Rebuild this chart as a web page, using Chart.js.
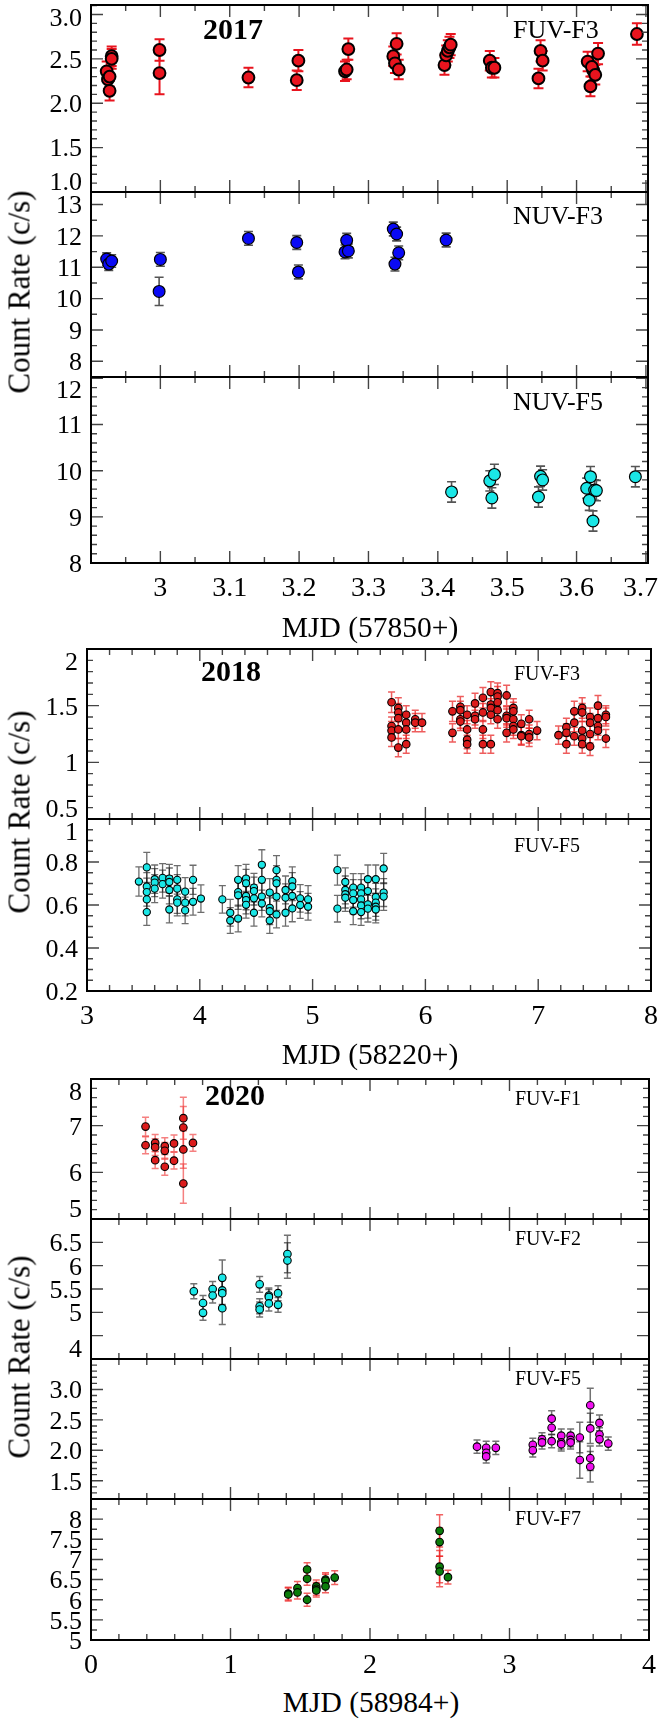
<!DOCTYPE html>
<html><head><meta charset="utf-8">
<script src="https://cdn.jsdelivr.net/npm/chart.js@4.4.1/dist/chart.umd.min.js"></script>
<style>
html,body{margin:0;padding:0;background:#fff;}
body{width:661px;height:1721px;position:relative;overflow:hidden;font-family:"Liberation Serif","Times New Roman",serif;}
canvas{position:absolute;left:0;}
.t{position:absolute;line-height:1;white-space:nowrap;color:#000;font-family:"Liberation Serif","Times New Roman",serif;}
</style></head><body>
<script>
// ---------------- 2017 ----------------
const mjd17_fuv3  = [2.9226,2.9244,2.9268,2.9268,2.9298,2.9298,2.9988,2.9988,3.127,3.1966,3.199,3.2662,3.2686,3.271,3.3358,3.3382,3.3406,3.3436,3.4096,3.412,3.4144,3.4168,3.4186,3.4749,3.4779,3.4816,3.5451,3.5481,3.5511,3.616,3.620,3.624,3.622,3.627,3.631,3.687];
const rate17_fuv3 = [2.36,2.27,2.30,2.14,2.53,2.50,2.60,2.34,2.29,2.26,2.48,2.36,2.38,2.61,2.53,2.45,2.67,2.38,2.43,2.54,2.59,2.63,2.66,2.48,2.40,2.40,2.28,2.59,2.48,2.47,2.19,2.37,2.41,2.32,2.56,2.78];
const err17_fuv3  = [0.11,0.11,0.11,0.11,0.11,0.11,0.12,0.24,0.11,0.11,0.12,0.11,0.11,0.12,0.11,0.11,0.12,0.11,0.11,0.11,0.12,0.12,0.12,0.11,0.11,0.11,0.11,0.12,0.11,0.11,0.11,0.11,0.11,0.11,0.12,0.12];

const mjd17_nuv3  = [2.9226,2.9256,2.9298,3.000,2.9982,3.127,3.1966,3.199,3.2662,3.2686,3.271,3.3358,3.3382,3.3406,3.3436,3.412];
const rate17_nuv3 = [11.26,11.10,11.20,11.25,10.23,11.92,11.79,10.85,11.49,11.86,11.52,12.22,11.10,12.06,11.46,11.87];
const err17_nuv3  = [0.20,0.20,0.20,0.22,0.45,0.22,0.22,0.22,0.22,0.22,0.22,0.22,0.22,0.22,0.22,0.22];

const mjd17_nuv5  = [3.4198,3.4749,3.4779,3.4816,3.5451,3.5481,3.5511,3.6146,3.6183,3.6201,3.6237,3.6261,3.6286,3.6848];
const rate17_nuv5 = [9.54,9.78,9.41,9.92,9.43,9.88,9.80,9.62,9.36,9.87,8.91,9.58,9.57,9.87];
const err17_nuv5  = [0.22,0.22,0.22,0.22,0.22,0.22,0.22,0.22,0.22,0.22,0.22,0.22,0.22,0.22];

// ---------------- 2018 ----------------
const mjd18_fuv3  = [5.70,5.70,5.70,5.70,5.76,5.76,5.76,5.76,5.76,5.83,5.83,5.83,5.83,5.91,5.91,5.97,6.24,6.24,6.31,6.31,6.31,6.31,6.37,6.37,6.37,6.37,6.44,6.44,6.44,6.51,6.51,6.51,6.51,6.58,6.58,6.58,6.58,6.58,6.64,6.64,6.64,6.64,6.64,6.72,6.72,6.72,6.72,6.78,6.78,6.78,6.78,6.78,6.85,6.85,6.85,6.92,6.92,6.92,6.99,7.18,7.25,7.25,7.25,7.32,7.32,7.32,7.39,7.39,7.39,7.39,7.39,7.46,7.46,7.46,7.46,7.53,7.53,7.53,7.53,7.60,7.60,7.60];
const rate18_fuv3 = [1.53,1.32,1.28,1.22,1.48,1.44,1.39,1.29,1.13,1.42,1.35,1.29,1.16,1.38,1.35,1.35,1.45,1.26,1.49,1.46,1.38,1.36,1.42,1.29,1.20,1.16,1.52,1.41,1.38,1.57,1.44,1.29,1.16,1.62,1.51,1.48,1.42,1.16,1.61,1.58,1.53,1.46,1.38,1.59,1.41,1.39,1.26,1.48,1.45,1.38,1.32,1.29,1.34,1.24,1.23,1.38,1.25,1.22,1.28,1.24,1.31,1.26,1.16,1.45,1.35,1.23,1.48,1.44,1.28,1.21,1.16,1.40,1.35,1.25,1.14,1.50,1.39,1.32,1.28,1.42,1.40,1.21];
const err18_fuv3  = [0.09,0.08,0.08,0.08,0.09,0.08,0.08,0.08,0.08,0.08,0.08,0.08,0.08,0.08,0.08,0.08,0.09,0.08,0.09,0.08,0.08,0.08,0.08,0.08,0.08,0.08,0.09,0.08,0.08,0.09,0.08,0.08,0.08,0.09,0.09,0.08,0.08,0.08,0.09,0.09,0.08,0.08,0.08,0.09,0.08,0.08,0.08,0.08,0.08,0.08,0.08,0.08,0.08,0.08,0.08,0.08,0.08,0.08,0.08,0.08,0.08,0.08,0.08,0.09,0.08,0.08,0.09,0.08,0.08,0.08,0.08,0.08,0.08,0.08,0.08,0.09,0.08,0.08,0.08,0.08,0.08,0.08];

const mjd18_fuv5  = [3.46,3.53,3.53,3.53,3.53,3.53,3.60,3.60,3.60,3.67,3.67,3.73,3.73,3.73,3.73,3.80,3.80,3.80,3.80,3.87,3.87,3.87,3.94,3.94,4.01,4.20,4.27,4.27,4.34,4.34,4.34,4.34,4.41,4.41,4.41,4.41,4.41,4.48,4.48,4.48,4.48,4.55,4.55,4.55,4.55,4.62,4.62,4.62,4.62,4.68,4.68,4.68,4.68,4.68,4.76,4.76,4.76,4.82,4.82,4.82,4.82,4.89,4.89,4.96,4.96,5.22,5.22,5.29,5.29,5.29,5.29,5.36,5.36,5.36,5.36,5.43,5.43,5.43,5.43,5.43,5.49,5.49,5.49,5.49,5.56,5.56,5.56,5.56,5.56,5.63,5.63,5.63];
const rate18_fuv5 = [0.709,0.775,0.686,0.660,0.626,0.567,0.720,0.704,0.676,0.726,0.697,0.723,0.707,0.670,0.579,0.717,0.676,0.626,0.611,0.662,0.611,0.575,0.717,0.615,0.630,0.626,0.564,0.528,0.717,0.660,0.645,0.537,0.723,0.701,0.642,0.623,0.601,0.681,0.665,0.631,0.564,0.787,0.717,0.639,0.607,0.658,0.587,0.571,0.528,0.762,0.717,0.701,0.639,0.556,0.670,0.634,0.564,0.711,0.686,0.642,0.584,0.631,0.600,0.626,0.592,0.762,0.583,0.707,0.670,0.650,0.634,0.681,0.654,0.623,0.571,0.681,0.654,0.626,0.598,0.567,0.720,0.665,0.603,0.583,0.720,0.637,0.611,0.592,0.579,0.770,0.658,0.639];
const err18_fuv5  = [0.068,0.070,0.065,0.065,0.065,0.062,0.066,0.065,0.065,0.066,0.065,0.066,0.065,0.065,0.062,0.066,0.065,0.065,0.062,0.065,0.062,0.062,0.068,0.062,0.064,0.064,0.062,0.060,0.066,0.065,0.065,0.062,0.066,0.065,0.064,0.064,0.062,0.066,0.065,0.064,0.062,0.070,0.066,0.064,0.062,0.065,0.062,0.062,0.060,0.068,0.066,0.065,0.064,0.062,0.065,0.064,0.062,0.066,0.065,0.064,0.062,0.064,0.062,0.064,0.062,0.070,0.062,0.066,0.065,0.064,0.064,0.065,0.064,0.064,0.062,0.065,0.064,0.064,0.062,0.062,0.066,0.065,0.064,0.062,0.066,0.064,0.064,0.062,0.062,0.070,0.065,0.064];

// ---------------- 2020 ----------------
const mjd20_fuv1  = [0.391,0.391,0.460,0.460,0.460,0.529,0.529,0.529,0.595,0.595,0.662,0.662,0.662,0.662,0.731];
const rate20_fuv1 = [6.98,6.58,6.63,6.54,6.26,6.56,6.46,6.12,6.62,6.25,7.16,6.96,6.49,5.76,6.63];
const err20_fuv1  = [0.20,0.18,0.18,0.18,0.18,0.18,0.18,0.18,0.18,0.18,0.45,0.45,0.40,0.42,0.18];

const mjd20_fuv2  = [0.737,0.803,0.803,0.872,0.872,0.941,0.941,0.941,0.941,1.209,1.209,1.209,1.275,1.275,1.275,1.341,1.341,1.408,1.408];
const rate20_fuv2 = [5.45,5.20,4.99,5.50,5.36,5.74,5.47,5.41,5.09,5.60,5.13,5.06,5.36,5.33,5.19,5.41,5.16,6.25,6.11];
const err20_fuv2  = [0.16,0.16,0.16,0.16,0.16,0.38,0.30,0.30,0.35,0.17,0.16,0.16,0.16,0.16,0.16,0.16,0.16,0.40,0.38];

const mjd20_fuv5  = [2.767,2.833,2.833,2.833,2.902,3.167,3.167,3.233,3.233,3.302,3.302,3.302,3.371,3.371,3.371,3.438,3.438,3.438,3.504,3.504,3.579,3.579,3.579,3.579,3.645,3.645,3.645,3.708];
const rate20_fuv5 = [2.06,2.04,1.96,1.90,2.04,2.09,2.00,2.18,2.13,2.52,2.37,2.15,2.24,2.13,2.10,2.24,2.17,2.13,2.21,1.84,2.74,2.36,1.87,1.73,2.45,2.26,2.18,2.11];
const err20_fuv5  = [0.11,0.11,0.11,0.11,0.11,0.11,0.11,0.11,0.11,0.13,0.11,0.11,0.11,0.11,0.11,0.11,0.11,0.11,0.25,0.30,0.28,0.25,0.20,0.25,0.13,0.11,0.11,0.11];

const mjd20_fuv7  = [1.414,1.414,1.480,1.480,1.549,1.549,1.549,1.615,1.615,1.615,1.681,1.681,1.681,1.747,2.499,2.499,2.499,2.499,2.559];
const rate20_fuv7 = [6.15,6.13,6.29,6.18,6.75,6.52,6.00,6.33,6.27,6.23,6.50,6.47,6.33,6.55,7.71,7.43,6.82,6.70,6.56];
const err20_fuv7  = [0.16,0.16,0.16,0.16,0.17,0.16,0.16,0.16,0.16,0.16,0.17,0.16,0.16,0.17,0.40,0.35,0.40,0.38,0.17];

// ---------------- tick labels ----------------
const xTicks17 = [3,3.1,3.2,3.3,3.4,3.5,3.6,3.7];
const xLabels17 = ['3','3.1','3.2','3.3','3.4','3.5','3.6','3.7'];
const xTicks18 = [3,4,5,6,7,8];
const xLabels18 = ['3','4','5','6','7','8'];
const xTicks20 = [0,1,2,3,4];
const xLabels20 = ['0','1','2','3','4'];

const yTicks17a = [1.0,1.5,2.0,2.5,3.0];  const yLabels17a = ['1.0','1.5','2.0','2.5','3.0'];
const yTicks17b = [8,9,10,11,12,13];       const yLabels17b = ['8','9','10','11','12','13'];
const yTicks17c = [8,9,10,11,12];          const yLabels17c = ['8','9','10','11','12'];
const yTicks18a = [0.5,1,1.5,2];           const yLabels18a = ['0.5','1','1.5','2'];
const yTicks18b = [0.2,0.4,0.6,0.8,1];     const yLabels18b = ['0.2','0.4','0.6','0.8','1'];
const yTicks20a = [5,6,7,8];               const yLabels20a = ['5','6','7','8'];
const yTicks20b = [4,5,5.5,6,6.5];         const yLabels20b = ['4','5','5.5','6','6.5'];
const yTicks20c = [1.5,2.0,2.5,3.0];       const yLabels20c = ['1.5','2.0','2.5','3.0'];
const yTicks20d = [5,5.5,6,6.5,7,7.5,8];   const yLabels20d = ['5','5.5','6','6.5','7','7.5','8'];

const FONT = '"Liberation Serif", "Times New Roman", serif';

function gridSteps(min, max, step) {
  const out = [];
  const k0 = Math.ceil(min / step - 1e-6), k1 = Math.floor(max / step + 1e-6);
  for (let k = k0; k <= k1; k++) out.push(k * step);
  return out;
}
function isMult(v, step) { const q = v / step; return Math.abs(q - Math.round(q)) < 1e-6; }

function panelPlugin(cfg) {
  return {
    id: 'panel',
    beforeDatasetsDraw(chart) {
      const ctx = chart.ctx, xs = chart.scales.x, ys = chart.scales.y;
      cfg.series.forEach(s => {
        ctx.save();
        ctx.strokeStyle = s.errColor; ctx.lineWidth = s.errW;
        s.x.forEach((xv, i) => {
          const px = xs.getPixelForValue(xv);
          const y1 = ys.getPixelForValue(s.y[i] - s.e[i]);
          const y2 = ys.getPixelForValue(s.y[i] + s.e[i]);
          const c = s.capW / 2;
          ctx.beginPath();
          ctx.moveTo(px, y1); ctx.lineTo(px, y2);
          ctx.moveTo(px - c, y1); ctx.lineTo(px + c, y1);
          ctx.moveTo(px - c, y2); ctx.lineTo(px + c, y2);
          ctx.stroke();
        });
        ctx.restore();
      });
    },
    afterDraw(chart) {
      const ctx = chart.ctx, a = chart.chartArea, xs = chart.scales.x, ys = chart.scales.y;
      ctx.save();
      ctx.strokeStyle = '#444'; ctx.lineWidth = 1.4;
      gridSteps(cfg.xMin, cfg.xMax, cfg.xMinor).forEach(v => {
        const len = isMult(v, cfg.xMajor) ? 12 : 6;
        const px = xs.getPixelForValue(v);
        ctx.beginPath();
        ctx.moveTo(px, a.bottom); ctx.lineTo(px, a.bottom - len);
        ctx.moveTo(px, a.top); ctx.lineTo(px, a.top + len);
        ctx.stroke();
      });
      gridSteps(cfg.yMin, cfg.yMax, cfg.yMinor).forEach(v => {
        const len = isMult(v, cfg.yMajor) ? 12 : 6;
        const py = ys.getPixelForValue(v);
        ctx.beginPath();
        ctx.moveTo(a.left, py); ctx.lineTo(a.left + len, py);
        ctx.moveTo(a.right, py); ctx.lineTo(a.right - len, py);
        ctx.stroke();
      });
      ctx.strokeStyle = '#000'; ctx.lineWidth = 2;
      ctx.strokeRect(a.left, a.top, a.right - a.left, a.bottom - a.top);
      // y tick labels
      ctx.fillStyle = '#000';
      ctx.font = cfg.yFont + 'px ' + FONT;
      ctx.textAlign = 'right'; ctx.textBaseline = 'alphabetic';
      const capH = 0.68 * cfg.yFont;
      cfg.yTicks.forEach((v, i) => {
        let yb = ys.getPixelForValue(v) + capH / 2;
        if (yb - capH < a.top + 3) yb = a.top + 3 + capH;
        if (cfg.clampBottom && yb > a.bottom - 2) yb = a.bottom - 2;
        ctx.fillText(cfg.yLabels[i], a.left - 9, yb);
      });
      if (cfg.xTicks) {
        ctx.font = cfg.xFont + 'px ' + FONT;
        ctx.textAlign = 'center';
        cfg.xTicks.forEach((v, i) => {
          const w = ctx.measureText(cfg.xLabels[i]).width;
          let cx = xs.getPixelForValue(v);
          if (cx + w / 2 > chart.width - 3) cx = chart.width - 3 - w / 2;
          ctx.fillText(cfg.xLabels[i], cx, a.bottom + 33);
        });
      }
      ctx.restore();
    }
  };
}

function makePanel(cfg) {
  const padT = 30, padB = cfg.xTicks ? 45 : 30;
  const cTop = cfg.top - padT;
  const H = cfg.bottom + padB - cTop;
  const canvas = document.createElement('canvas');
  canvas.width = 661; canvas.height = H;
  canvas.style.top = cTop + 'px';
  canvas.style.width = '661px'; canvas.style.height = H + 'px';
  document.body.appendChild(canvas);
  const datasets = cfg.series.map(s => ({
    data: s.x.map((xv, i) => ({ x: xv, y: s.y[i] })),
    pointRadius: s.r, pointHoverRadius: s.r,
    pointBackgroundColor: s.fill, pointBorderColor: '#000',
    pointBorderWidth: s.bw, showLine: false, clip: false
  }));
  new Chart(canvas, {
    type: 'scatter',
    data: { datasets },
    options: {
      responsive: false, animation: false, events: [], devicePixelRatio: 1,
      layout: { padding: { left: cfg.L, right: 661 - cfg.R, top: padT, bottom: padB } },
      plugins: { legend: { display: false }, tooltip: { enabled: false } },
      scales: {
        x: { type: 'linear', min: cfg.xMin, max: cfg.xMax, display: false },
        y: { type: 'linear', min: cfg.yMin, max: cfg.yMax, display: false }
      }
    },
    plugins: [panelPlugin(cfg)]
  });
}

function addText(txt, x, baseline, size, opt) {
  opt = opt || {};
  const d = document.createElement('div');
  d.className = 't'; d.textContent = txt;
  d.style.fontSize = size + 'px';
  if (opt.bold) d.style.fontWeight = 'bold';
  if (opt.rotate) {
    d.style.left = x + 'px'; d.style.top = baseline + 'px';
    d.style.transform = 'translate(-50%,-50%) rotate(-90deg)';
  } else {
    d.style.top = (baseline - 0.8375 * size) + 'px';
    d.style.left = x + 'px';
    if (opt.center) d.style.transform = 'translateX(-50%)';
  }
  document.body.appendChild(d);
}

const X17 = { L: 91, R: 648, xMin: 2.9, xMax: 3.703, xMajor: 0.1, xMinor: 0.05, yFont: 26, xFont: 28 };
const X18 = { L: 87, R: 651, xMin: 3, xMax: 8, xMajor: 1, xMinor: 0.2, yFont: 26, xFont: 28 };
const X20 = { L: 91, R: 649, xMin: 0, xMax: 4, xMajor: 1, xMinor: 0.2, yFont: 26, xFont: 28 };

makePanel(Object.assign({}, X17, { top: 5, bottom: 192, yMin: 1.0, yMax: 3.107, yMajor: 0.5, yMinor: 0.1,
  yTicks: yTicks17a, yLabels: yLabels17a, clampBottom: true,
  series: [{ x: mjd17_fuv3, y: rate17_fuv3, e: err17_fuv3, fill: '#e8141e', r: 5.9, bw: 2, errColor: '#e8141e', errW: 2, capW: 10 }] }));
makePanel(Object.assign({}, X17, { top: 192, bottom: 377, yMin: 7.5, yMax: 13.4, yMajor: 1, yMinor: 0.5,
  yTicks: yTicks17b, yLabels: yLabels17b, clampBottom: true,
  series: [{ x: mjd17_nuv3, y: rate17_nuv3, e: err17_nuv3, fill: '#0a0af5', r: 5.9, bw: 1.2, errColor: '#555', errW: 1.6, capW: 9 }] }));
makePanel(Object.assign({}, X17, { top: 377, bottom: 563, yMin: 8, yMax: 12.03, yMajor: 1, yMinor: 0.2,
  yTicks: yTicks17c, yLabels: yLabels17c, clampBottom: false, xTicks: xTicks17, xLabels: xLabels17,
  series: [{ x: mjd17_nuv5, y: rate17_nuv5, e: err17_nuv5, fill: '#1ae6e6', r: 5.9, bw: 1.2, errColor: '#555', errW: 1.6, capW: 9 }] }));

makePanel(Object.assign({}, X18, { top: 649, bottom: 819, yMin: 0.5, yMax: 2.0, yMajor: 0.5, yMinor: 0.1,
  yTicks: yTicks18a, yLabels: yLabels18a, clampBottom: true,
  series: [{ x: mjd18_fuv3, y: rate18_fuv3, e: err18_fuv3, fill: '#dc1c1c', r: 3.8, bw: 1.1, errColor: 'rgba(232,30,30,0.72)', errW: 1.5, capW: 7 }] }));
makePanel(Object.assign({}, X18, { top: 819, bottom: 991, yMin: 0.2, yMax: 1.0, yMajor: 0.2, yMinor: 0.05,
  yTicks: yTicks18b, yLabels: yLabels18b, clampBottom: false, xTicks: xTicks18, xLabels: xLabels18,
  series: [{ x: mjd18_fuv5, y: rate18_fuv5, e: err18_fuv5, fill: '#1ae6e6', r: 3.6, bw: 1.1, errColor: 'rgba(20,20,20,0.62)', errW: 1.3, capW: 7 }] }));

makePanel(Object.assign({}, X20, { top: 1079, bottom: 1219, yMin: 5, yMax: 8, yMajor: 1, yMinor: 0.2,
  yTicks: yTicks20a, yLabels: yLabels20a, clampBottom: true,
  series: [{ x: mjd20_fuv1, y: rate20_fuv1, e: err20_fuv1, fill: '#dc1c1c', r: 3.8, bw: 1.1, errColor: 'rgba(240,60,60,0.65)', errW: 1.5, capW: 7 }] }));
makePanel(Object.assign({}, X20, { top: 1219, bottom: 1359, yMin: 4, yMax: 7, yMajor: 0.5, yMinor: 0.5,
  yTicks: yTicks20b, yLabels: yLabels20b, clampBottom: true,
  series: [{ x: mjd20_fuv2, y: rate20_fuv2, e: err20_fuv2, fill: '#1ae6e6', r: 3.8, bw: 1.1, errColor: 'rgba(20,20,20,0.6)', errW: 1.5, capW: 7 }] }));
makePanel(Object.assign({}, X20, { top: 1359, bottom: 1499, yMin: 1.2, yMax: 3.5, yMajor: 0.5, yMinor: 0.1,
  yTicks: yTicks20c, yLabels: yLabels20c, clampBottom: true,
  series: [{ x: mjd20_fuv5, y: rate20_fuv5, e: err20_fuv5, fill: '#f010f0', r: 3.8, bw: 1.1, errColor: 'rgba(20,20,20,0.6)', errW: 1.5, capW: 7 }] }));
makePanel(Object.assign({}, X20, { top: 1499, bottom: 1640, yMin: 5, yMax: 8.5, yMajor: 0.5, yMinor: 0.25,
  yTicks: yTicks20d, yLabels: yLabels20d, clampBottom: false, xTicks: xTicks20, xLabels: xLabels20,
  series: [{ x: mjd20_fuv7, y: rate20_fuv7, e: err20_fuv7, fill: '#0b7d0b', r: 3.8, bw: 1.1, errColor: 'rgba(235,30,30,0.7)', errW: 1.5, capW: 7 }] }));

// annotations
addText('2017', 233, 39, 30, { bold: true, center: true });
addText('FUV-F3', 513, 39, 26);
addText('NUV-F3', 513, 225, 26);
addText('NUV-F5', 513, 411, 26);
addText('MJD (57850+)', 370, 638, 29.5, { center: true });
addText('Count Rate (c/s)', 19, 292, 31, { rotate: true });

addText('2018', 231, 681, 30, { bold: true, center: true });
addText('FUV-F3', 514, 680, 20);
addText('FUV-F5', 514, 852, 20);
addText('MJD (58220+)', 370, 1065, 29.5, { center: true });
addText('Count Rate (c/s)', 19, 812, 31, { rotate: true });

addText('2020', 235, 1105, 30, { bold: true, center: true });
addText('FUV-F1', 515, 1105, 20);
addText('FUV-F2', 515, 1245, 20);
addText('FUV-F5', 515, 1385, 20);
addText('FUV-F7', 515, 1525, 20);
addText('MJD (58984+)', 371, 1713, 29.5, { center: true });
addText('Count Rate (c/s)', 19, 1357, 31, { rotate: true });
</script>
</body></html>
